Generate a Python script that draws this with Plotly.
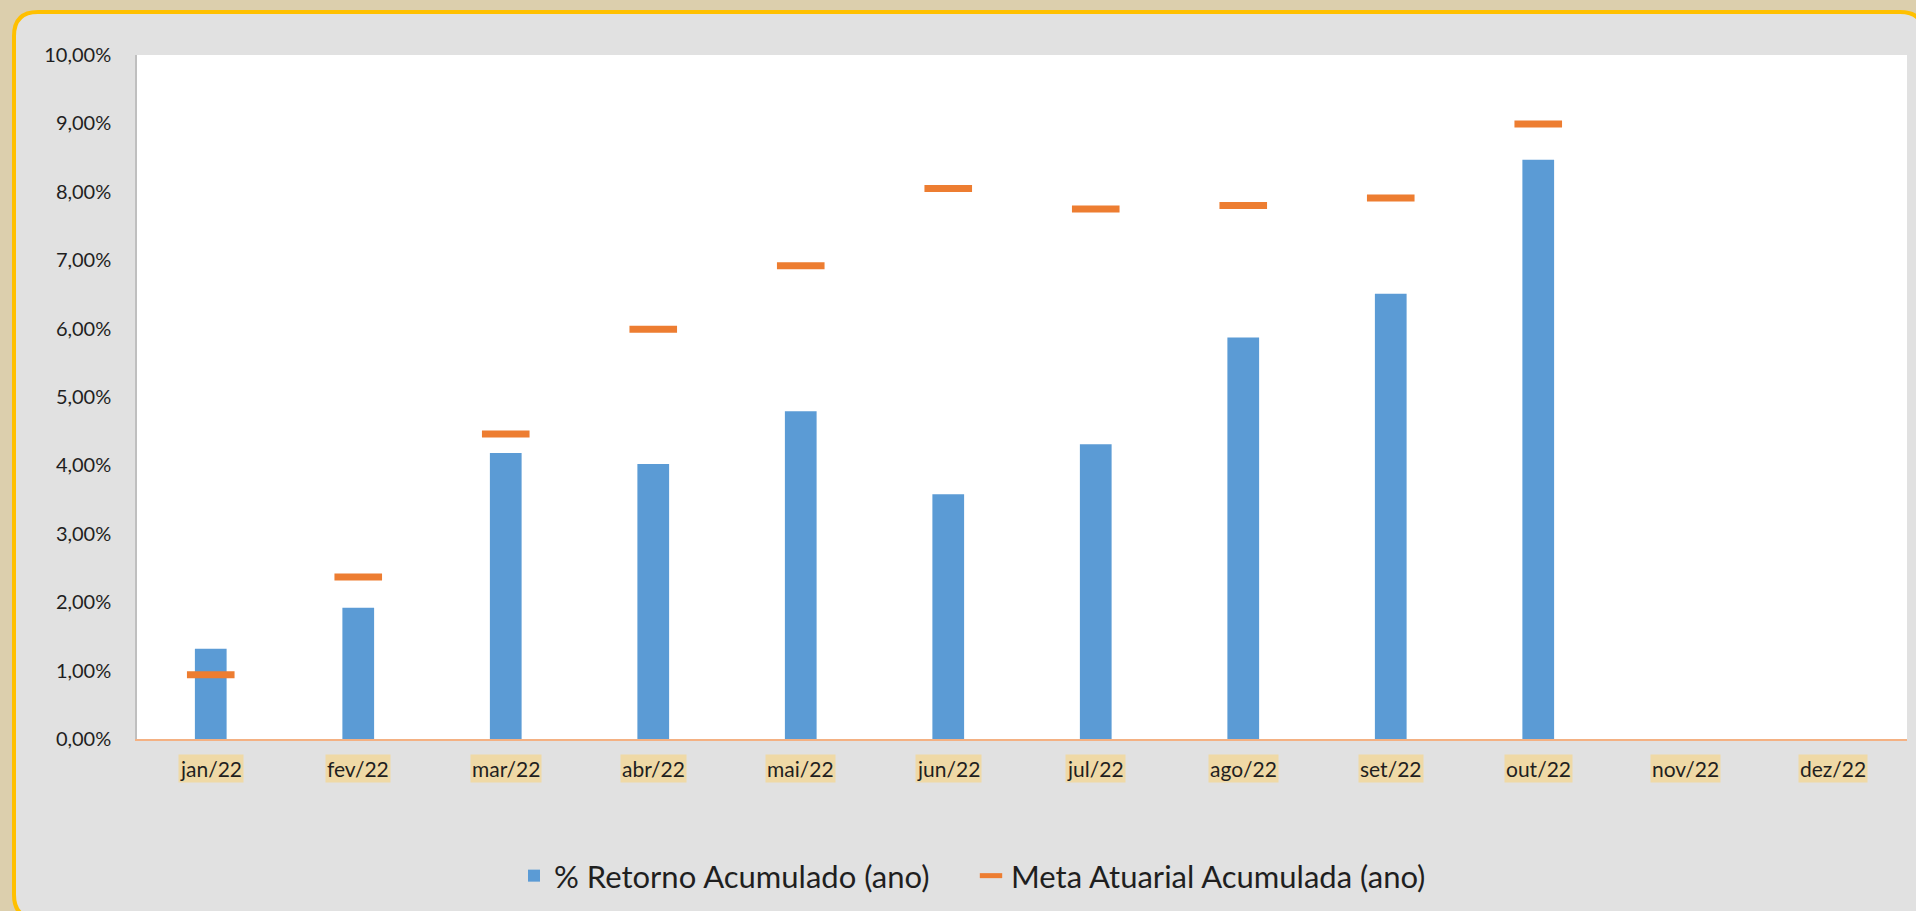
import plotly.graph_objects as go

# dados (em %)
meses = ["jan/22", "fev/22", "mar/22", "abr/22", "mai/22", "jun/22",
         "jul/22", "ago/22", "set/22", "out/22", "nov/22", "dez/22"]
retorno_acum = [1.32, 1.92, 4.18, 4.02, 4.79, 3.58, 4.31, 5.87, 6.51, 8.47, None, None]
meta_acum = [0.94, 2.37, 4.46, 5.99, 6.92, 8.05, 7.75, 7.80, 7.91, 8.99, None, None]
y_ticks = [0, 1, 2, 3, 4, 5, 6, 7, 8, 9, 10]
y_labels = [f"{v:.2f}".replace(".", ",") + "%" for v in y_ticks]

W, H = 1916, 911
ML, MR, MT, MB = 137, 9, 55, 171
PW, PH = W - ML - MR, H - MT - MB


def px_x(x):
    return (x - ML) / PW


def px_y(y):
    return (H - MB - y) / PH


def rounded_rect(x0, y0, x1, y1, r):
    # caminho em coordenadas "paper"
    rx, ry = r / PW, r / PH
    a, b, c, d = px_x(x0), px_y(y0), px_x(x1), px_y(y1)
    return (f"M {a + rx} {b} L {c - rx} {b} Q {c} {b} {c} {b - ry} "
            f"L {c} {d + ry} Q {c} {d} {c - rx} {d} L {a + rx} {d} "
            f"Q {a} {d} {a} {d + ry} L {a} {b - ry} Q {a} {b} {a + rx} {b} Z")


fig = go.Figure()

fig.add_trace(go.Bar(
    x=meses, y=retorno_acum, name="% Retorno Acumulado (ano)",
    marker=dict(color="#5B9BD5", line=dict(width=0)),
))

fig.add_trace(go.Scatter(
    x=meses, y=meta_acum, name="Meta Atuarial Acumulada (ano)",
    mode="markers",
    marker=dict(symbol="line-ew", size=34, color="#ED7D31",
                line=dict(color="#ED7D31", width=7)),
))

font_main = "Lato, 'Open Sans', sans-serif"

annotations = []
for m in meses:
    annotations.append(dict(
        x=m, xref="x", y=0, yref="paper", yanchor="middle", yshift=-29,
        text=m, showarrow=False, bgcolor="#EFD9A6", borderpad=1,
        font=dict(family=font_main, size=21, color="#1F1F1F"),
    ))

fig.update_layout(
    width=W, height=H,
    margin=dict(l=ML, r=MR, t=MT, b=MB, pad=0),
    paper_bgcolor="#DCCFAD",
    plot_bgcolor="rgba(0,0,0,0)",
    bargap=0.785,
    font=dict(family=font_main, color="#1F1F1F"),
    shapes=[
        dict(type="path", xref="paper", yref="paper", layer="below",
             path=rounded_rect(14, 12, 1924, 920, 24),
             fillcolor="#E1E1E1", line=dict(color="#FFC000", width=4)),
        dict(type="rect", xref="paper", yref="paper", layer="below",
             x0=0, x1=1, y0=0, y1=1, fillcolor="white", line=dict(width=0)),
    ],
    annotations=annotations,
    legend=dict(
        orientation="h", x=px_x(514), xanchor="left", y=px_y(876), yanchor="middle",
        font=dict(family=font_main, size=31, color="#1F1F1F"),
        bgcolor="rgba(0,0,0,0)", entrywidth=412,
    ),
    showlegend=True,
)

fig.update_xaxes(
    type="category", range=[-0.5, 11.5], showticklabels=False,
    showgrid=False, zeroline=False, showline=True,
    linecolor="#F4B183", linewidth=1.5, ticks="",
)
fig.update_yaxes(
    range=[0, 10], tickvals=y_ticks, ticktext=y_labels,
    showgrid=False, zeroline=False, showline=True,
    linecolor="#BFBFBF", linewidth=1.5, ticks="", ticklabelstandoff=20,
    tickfont=dict(family=font_main, size=20, color="#1F1F1F"),
)

fig.write_html(
    "out.html",
    config={"displayModeBar": False},
    post_script="document.body.style.margin='0';document.body.style.overflow='hidden';",
)
